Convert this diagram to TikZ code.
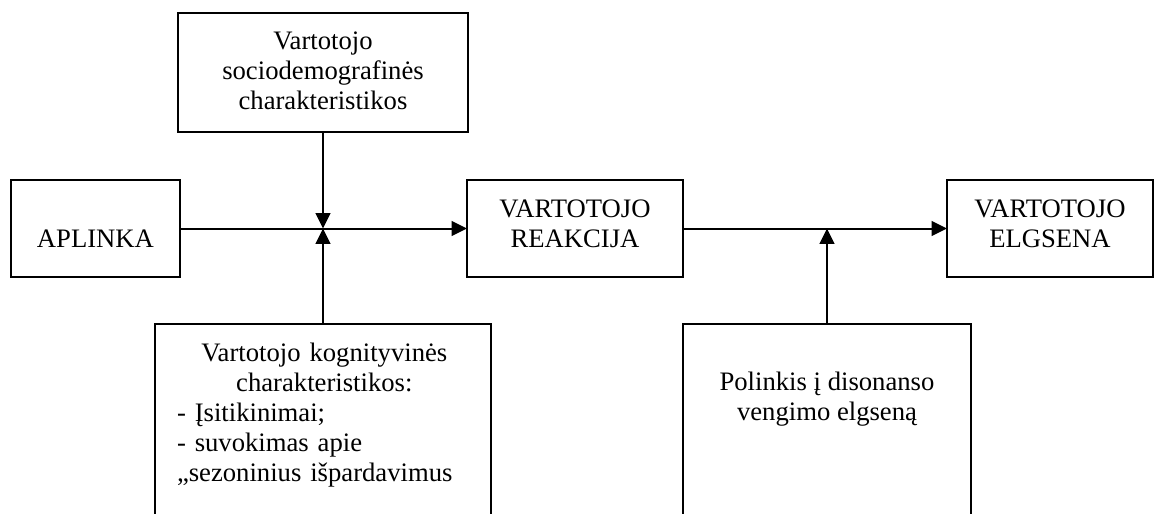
\documentclass[tikz,border=0pt]{standalone}
\usepackage{fontspec}
\setmainfont{Liberation Serif}
\usetikzlibrary{arrows.meta}

\begin{document}
\begin{tikzpicture}[x=0.75pt,y=-0.75pt,
  every node/.style={inner sep=0pt, outer sep=0pt},
  box/.style={draw, line width=1.5pt, rectangle},
  label/.style={font=\fontsize{20pt}{22.5pt}\selectfont, align=center},
  arr/.style={line width=1.5pt, -{Triangle[length=11.5pt,width=11pt]}}]
  \useasboundingbox (0,0) rectangle (1154,514);
  \clip (0,0) rectangle (1154,514);

  % boxes
  \node[box, minimum width=217.5pt, minimum height=89.25pt] (socio) at (323,72.5) {};
  \node[box, minimum width=126.75pt, minimum height=72.75pt] (env) at (95.5,228.5) {};
  \node[box, minimum width=162pt, minimum height=72.75pt] (react) at (575,228.5) {};
  \node[box, minimum width=154.125pt, minimum height=72.75pt] (beh) at (1049.75,228.5) {};
  \node[box, minimum width=252pt, minimum height=195pt, anchor=north] (cogn) at (323,324) {};
  \node[box, minimum width=216pt, minimum height=195pt, anchor=north] (disso) at (827,324) {};

  % texts
  \node[label, anchor=north] (socioT) at (323,32) {Vartotojo\\sociodemografinės\\charakteristikos};
  \node[label, anchor=base] (envT) at (95.5,247) {APLINKA};
  \node[label, anchor=north] (reactT) at (575,199.5) {VARTOTOJO\\REAKCIJA};
  \node[label, anchor=north] (behT) at (1050,199.5) {VARTOTOJO\\ELGSENA};
  \node[label, anchor=north] (dissoT) at (827,372) {Polinkis į disonanso\\vengimo elgseną};
  \node[label, align=left, text width=221pt, anchor=north west] (cognT) at (177,343)
    {{\centering Vartotojo kognityvinės\\charakteristikos:\par}
     - Įsitikinimai;\\- suvokimas apie\\„sezoninius išpardavimus};

  % junctions on the main line
  \coordinate (j1) at (323,228.5);
  \coordinate (j2) at (827,228.5);

  % connectors
  \draw[arr] (env.east) -- (react.west);
  \draw[arr] (react.east) -- (beh.west);
  \draw[arr] (socio.south) -- (j1);
  \draw[arr] (cogn.north) -- (j1);
  \draw[arr] (disso.north) -- (j2);
\end{tikzpicture}
\end{document}
